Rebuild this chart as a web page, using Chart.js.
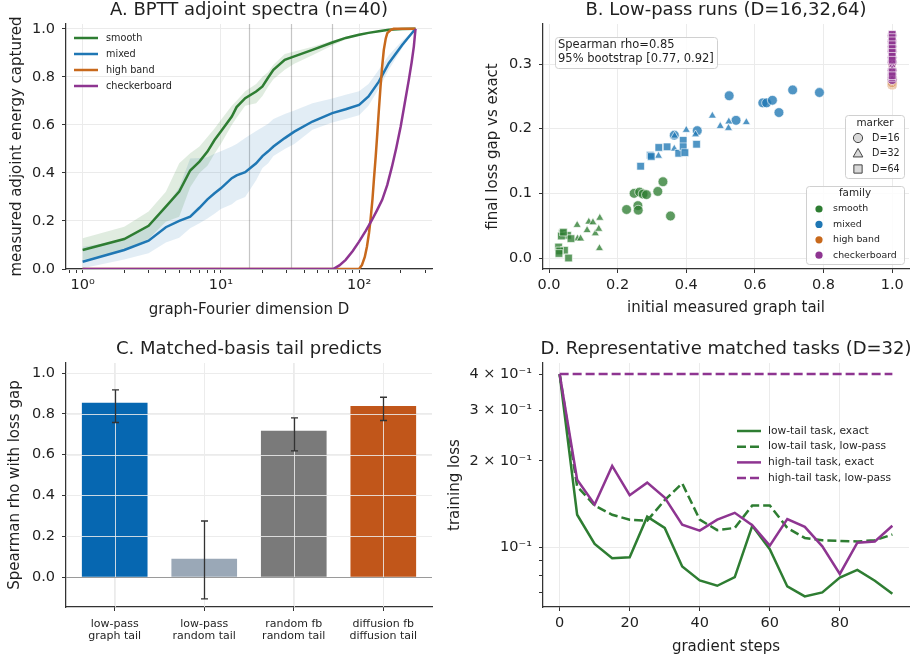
<!DOCTYPE html>
<html>
<head>
<meta charset="utf-8">
<title>adjoint tail panels</title>
<script src="https://cdn.jsdelivr.net/npm/chart.js@4.4.1/dist/chart.umd.min.js"></script>
<style>
  html, body { margin: 0; padding: 0; background: #fff; }
  #wrap { position: relative; width: 919px; height: 659px; overflow: hidden; }
  canvas { position: absolute; }
</style>
</head>
<body>
<div id="wrap">
  <canvas id="panelA" width="450" height="320" style="left:0px;top:0px"></canvas>
  <canvas id="panelB" width="469" height="320" style="left:450px;top:0px"></canvas>
  <canvas id="panelC" width="440" height="339" style="left:0px;top:320px"></canvas>
  <canvas id="panelD" width="479" height="339" style="left:440px;top:320px"></canvas>
</div>
<script>
// ---- A. fraction of adjoint energy captured by the first D graph-Fourier modes
const specD      = [1, 2, 3, 4, 5, 6, 7, 8, 9, 10, 12, 13, 15, 18, 20, 22, 24, 29, 34, 46, 64, 80, 100, 117, 139, 164, 205, 256]
const smoothFrac = [0.079, 0.125, 0.18, 0.26, 0.322, 0.41, 0.447, 0.489, 0.537, 0.572, 0.635, 0.674, 0.711, 0.739, 0.76, 0.797, 0.829, 0.871, 0.885, 0.9125, 0.943, 0.962, 0.975, 0.983, 0.99, 0.996, 0.999, 1.0]
const smoothHi   = [0.128, 0.176, 0.239, 0.322, 0.44, 0.482, 0.51, 0.55, 0.585, 0.62, 0.68, 0.70, 0.74, 0.77, 0.80, 0.82, 0.85, 0.895, 0.905, 0.925, 0.95, 0.967, 0.98, 0.987, 0.993, 0.998, 1.0, 1.0]
const smoothLo   = [0.037, 0.079, 0.125, 0.197, 0.218, 0.34, 0.40, 0.43, 0.48, 0.52, 0.60, 0.63, 0.68, 0.69, 0.72, 0.76, 0.79, 0.83, 0.855, 0.89, 0.93, 0.955, 0.97, 0.979, 0.987, 0.994, 0.998, 1.0]
const mixedFrac  = [0.03, 0.079, 0.118, 0.174, 0.2, 0.218, 0.255, 0.29, 0.315, 0.336, 0.378, 0.39, 0.403, 0.44, 0.47, 0.49, 0.51, 0.545, 0.572, 0.614, 0.649, 0.665, 0.683, 0.718, 0.78, 0.857, 0.933, 1.0]
const mixedHi    = [0.093, 0.12, 0.18, 0.26, 0.34, 0.46, 0.462, 0.465, 0.48, 0.49, 0.51, 0.52, 0.545, 0.575, 0.59, 0.605, 0.625, 0.645, 0.66, 0.69, 0.71, 0.725, 0.74, 0.77, 0.83, 0.89, 0.95, 1.0]
const mixedLo    = [0.003, 0.04, 0.066, 0.11, 0.13, 0.17, 0.19, 0.21, 0.23, 0.25, 0.27, 0.285, 0.30, 0.37, 0.42, 0.44, 0.47, 0.50, 0.52, 0.58, 0.61, 0.625, 0.64, 0.68, 0.75, 0.83, 0.92, 1.0]
const highD      = [1, 100, 105, 110, 114, 118, 121, 125, 128, 132, 135, 139, 143, 147, 151, 156, 160, 170, 178, 256]
const highFrac   = [0, 0, 0.017, 0.05, 0.093, 0.15, 0.204, 0.29, 0.371, 0.47, 0.551, 0.66, 0.76, 0.845, 0.9125, 0.96, 0.982, 0.996, 1.0, 1.0]
const checkD     = [1, 65, 72, 80, 90, 100, 112, 124, 135, 147, 160, 173, 186, 200, 214, 229, 240, 249, 256]
const checkFrac  = [0, 0, 0.015, 0.038, 0.075, 0.114, 0.16, 0.204, 0.245, 0.288, 0.35, 0.426, 0.505, 0.593, 0.69, 0.7875, 0.86, 0.926, 1.0]
const guideD     = [16, 32, 64]

// ---- B. low-pass runs: initial tail vs final loss gap (dims 16/32/64)
const smoothTail = [0.226, 0.248, 0.264, 0.274, 0.284, 0.259, 0.260, 0.317, 0.332, 0.354,
                    0.082, 0.116, 0.128, 0.148, 0.111, 0.135, 0.145, 0.083, 0.092, 0.147,
                    0.039, 0.054, 0.064, 0.028, 0.045, 0.031, 0.057, 0.036, 0.029, 0.042]
const smoothGap  = [0.075, 0.100, 0.102, 0.099, 0.098, 0.081, 0.074, 0.103, 0.118, 0.065,
                    0.051, 0.056, 0.055, 0.062, 0.043, 0.038, 0.045, 0.030, 0.030, 0.015,
                    0.038, 0.035, 0.030, 0.017, 0.012, 0.011, 0.000, 0.034, 0.007, 0.040]
const mixedTail  = [0.525, 0.623, 0.634, 0.651, 0.670, 0.710, 0.788, 0.545, 0.365, 0.432,
                    0.476, 0.499, 0.524, 0.523, 0.575, 0.400, 0.366, 0.427, 0.365, 0.319,
                    0.267, 0.295, 0.320, 0.344, 0.378, 0.391, 0.391, 0.396, 0.430, 0.298]
const mixedGap   = [0.251, 0.240, 0.240, 0.244, 0.225, 0.260, 0.256, 0.213, 0.190, 0.197,
                    0.220, 0.204, 0.211, 0.201, 0.210, 0.198, 0.189, 0.191, 0.169, 0.158,
                    0.142, 0.159, 0.171, 0.172, 0.162, 0.182, 0.172, 0.163, 0.176, 0.157]
const highTail   = [1, 1, 1, 1, 1, 1, 1, 1, 1, 1, 1, 1, 1, 1, 1, 1, 1, 1, 1, 1, 1, 1, 1, 1, 1, 1, 1, 1, 1, 1]
const highGap    = [0.268, 0.268, 0.269, 0.270, 0.271, 0.272, 0.274, 0.276, 0.278, 0.280,
                    0.290, 0.292, 0.293, 0.294, 0.295, 0.296, 0.297, 0.298, 0.299, 0.300,
                    0.295, 0.296, 0.297, 0.298, 0.298, 0.299, 0.299, 0.300, 0.300, 0.301]
const checkTail  = [1, 1, 1, 1, 1, 1, 1, 1, 1, 1, 1, 1, 1, 1, 1, 1, 1, 1, 1, 1, 1, 1, 1, 1, 1, 1, 1, 1, 1, 1]
const checkGap   = [0.344, 0.335, 0.327, 0.320, 0.310, 0.303, 0.290, 0.283, 0.279, 0.276,
                    0.345, 0.338, 0.328, 0.315, 0.305, 0.298, 0.292, 0.285, 0.280, 0.277,
                    0.346, 0.341, 0.336, 0.330, 0.324, 0.318, 0.312, 0.306, 0.288, 0.282]
const runDim     = [16, 16, 16, 16, 16, 16, 16, 16, 16, 16,
                    32, 32, 32, 32, 32, 32, 32, 32, 32, 32,
                    64, 64, 64, 64, 64, 64, 64, 64, 64, 64]
const rhoText    = ['Spearman rho=0.85', '95% bootstrap [0.77, 0.92]']

// ---- C. Spearman rho of tail measure vs loss gap, with 95% intervals
const basisLabels = [['low-pass', 'graph tail'], ['low-pass', 'random tail'], ['random fb', 'random tail'], ['diffusion fb', 'diffusion tail']]
const basisRho    = [0.853, 0.088, 0.716, 0.838]
const basisLo     = [0.758, -0.107, 0.619, 0.768]
const basisHi     = [0.918, 0.275, 0.781, 0.882]

// ---- D. training loss of two tasks (D=32)
const steps     = [0, 5, 10, 15, 20, 25, 30, 35, 40, 45, 50, 55, 60, 65, 70, 75, 80, 85, 90, 95]
const lowExact  = [0.4, 0.130, 0.103, 0.0918, 0.0926, 0.128, 0.117, 0.086, 0.0769, 0.0737, 0.079, 0.119, 0.0987, 0.0733, 0.0677, 0.0699, 0.0787, 0.0837, 0.0767, 0.0691]
const lowPass   = [0.4, 0.163, 0.140, 0.130, 0.125, 0.124, 0.146, 0.167, 0.125, 0.115, 0.117, 0.140, 0.140, 0.117, 0.108, 0.106, 0.1055, 0.105, 0.106, 0.111]
const highExact = [0.4, 0.172, 0.141, 0.192, 0.152, 0.168, 0.149, 0.120, 0.1145, 0.125, 0.132, 0.1195, 0.1016, 0.1256, 0.118, 0.101, 0.081, 0.104, 0.105, 0.119]
const highPass  = [0.4, 0.4, 0.4, 0.4, 0.4, 0.4, 0.4, 0.4, 0.4, 0.4, 0.4, 0.4, 0.4, 0.4, 0.4, 0.4, 0.4, 0.4, 0.4, 0.4]

const FONT = '"DejaVu Sans", sans-serif'
const INK = '#1f1f1f'
const SPINE = '#333333'
const GRID = '#ebebeb'
const C_SMOOTH = '#2e7d32'
const C_MIXED = '#1f77b4'
const C_HIGH = '#c8691c'
const C_CHECK = '#8e3591'

Chart.defaults.font.family = FONT
Chart.defaults.color = INK
Chart.defaults.animation = false
Chart.defaults.plugins.legend.display = false
Chart.defaults.plugins.tooltip.enabled = false

function pts(xs, ys) { return xs.map((x, i) => ({x: x, y: ys[i]})) }
function isDecade(v) { let l = Math.log10(v); return Math.abs(l - Math.round(l)) < 1e-9 }

function text(ctx, s, x, y, size, align, base, color) {
    ctx.save()
    ctx.font = size + 'px ' + FONT
    ctx.fillStyle = color || INK
    ctx.textAlign = align || 'left'
    ctx.textBaseline = base || 'middle'
    ctx.fillText(s, x, y)
    ctx.restore()
}

function roundBox(ctx, x, y, w, h, r) {
    ctx.beginPath()
    ctx.moveTo(x + r, y)
    ctx.arcTo(x + w, y, x + w, y + h, r)
    ctx.arcTo(x + w, y + h, x, y + h, r)
    ctx.arcTo(x, y + h, x, y, r)
    ctx.arcTo(x, y, x + w, y, r)
    ctx.closePath()
}

function frame(ctx, x, y, w, h) {
    ctx.save()
    roundBox(ctx, x, y, w, h, 3)
    ctx.fillStyle = 'rgba(255,255,255,0.85)'
    ctx.fill()
    ctx.strokeStyle = '#d0d0d0'
    ctx.lineWidth = 1
    ctx.stroke()
    ctx.restore()
}

function sampleLine(ctx, x0, x1, y, color, dash) {
    ctx.save()
    ctx.strokeStyle = color
    ctx.lineWidth = 2.5
    ctx.setLineDash(dash || [])
    ctx.beginPath(); ctx.moveTo(x0, y); ctx.lineTo(x1, y); ctx.stroke()
    ctx.restore()
}

function marker(ctx, style, x, y, r, fill, edge) {
    ctx.save()
    ctx.fillStyle = fill
    ctx.strokeStyle = edge
    ctx.lineWidth = 1
    ctx.beginPath()
    if (style === 'circle') ctx.arc(x, y, r, 0, Math.PI * 2)
    else if (style === 'triangle') {
        ctx.moveTo(x, y - r * 1.1)
        ctx.lineTo(x + r * 1.05, y + r * 0.75)
        ctx.lineTo(x - r * 1.05, y + r * 0.75)
        ctx.closePath()
    } else ctx.rect(x - r * 0.9, y - r * 0.9, r * 1.8, r * 1.8)
    ctx.fill()
    if (edge) ctx.stroke()
    ctx.restore()
}

// one axis, with fixed ticks and a fixed thickness so every panel lines up
function axis(o) {
    return {
        type: o.type || 'linear',
        position: o.pos,
        min: o.min,
        max: o.max,
        offset: false,
        afterBuildTicks: s => { s.ticks = o.ticks.map(v => ({value: v})) },
        afterFit: s => { if (o.pos === 'left') s.width = o.size; else s.height = o.size },
        grid: {
            color: o.gridColor || GRID, lineWidth: 1, offset: false,
            drawTicks: true, tickLength: 4, tickColor: SPINE, tickWidth: 1
        },
        border: { color: SPINE, width: 1.25 },
        ticks: {
            autoSkip: false, maxRotation: 0, minRotation: 0,
            padding: o.pad, color: INK,
            font: { size: o.fs || 14.5, lineHeight: o.lh || 1.2 },
            callback: o.fmt
        },
        title: {
            display: !!o.title, text: o.title, color: INK,
            font: { size: 15, lineHeight: 1.2 }, padding: o.tpad || 0
        }
    }
}

function panelTitle(s, baseY) {
    return {
        id: 'panelTitle',
        afterDraw(c) {
            let a = c.chartArea
            text(c.ctx, s, (a.left + a.right) / 2, baseY, 18, 'center', 'alphabetic')
        }
    }
}

// ---------------- panel A
function specLine(xs, ys, color) {
    return { data: pts(xs, ys), showLine: true, borderColor: color, borderWidth: 2.5, pointRadius: 0, tension: 0, fill: false }
}
function specBand(xs, ys, color, fill) {
    return { data: pts(xs, ys), showLine: true, borderWidth: 0, borderColor: 'rgba(0,0,0,0)', backgroundColor: color, pointRadius: 0, tension: 0, fill: fill }
}

new Chart(document.getElementById('panelA'), {
    type: 'scatter',
    data: {
        datasets: [
            specLine(checkD, checkFrac, C_CHECK),
            specLine(highD, highFrac, C_HIGH),
            specLine(specD, mixedFrac, C_MIXED),
            specLine(specD, smoothFrac, C_SMOOTH),
            specBand(specD, smoothHi, 'rgba(46,125,50,0.15)', '+1'),
            specBand(specD, smoothLo, 'rgba(0,0,0,0)', false),
            specBand(specD, mixedHi, 'rgba(31,119,180,0.13)', '+1'),
            specBand(specD, mixedLo, 'rgba(0,0,0,0)', false)
        ]
    },
    options: {
        responsive: false,
        devicePixelRatio: 1,
        layout: { padding: { left: 0, top: 24, right: 18, bottom: 0 } },
        scales: {
            x: axis({
                type: 'logarithmic', pos: 'bottom', size: 51, min: 0.758, max: 337,
                ticks: [0.8, 0.9, 1, 2, 3, 4, 5, 6, 7, 8, 9, 10, 20, 30, 40, 50, 60, 70, 80, 90, 100, 200, 300],
                fmt: v => v === 1 ? '10⁰' : v === 10 ? '10¹' : v === 100 ? '10²' : '',
                pad: 4, title: 'graph-Fourier dimension D', tpad: { bottom: 1 },
                gridColor: ctx => (ctx.tick && isDecade(ctx.tick.value)) ? GRID : 'rgba(0,0,0,0)'
            }),
            y: axis({
                pos: 'left', size: 66, min: 0, max: 1.02,
                ticks: [0, 0.2, 0.4, 0.6, 0.8, 1.0],
                fmt: v => v.toFixed(1), pad: 7,
                title: 'measured adjoint energy captured', tpad: { top: 8 }
            })
        }
    },
    plugins: [
        panelTitle('A. BPTT adjoint spectra (n=40)', 15),
        {
            id: 'guides',
            beforeDatasetsDraw(c) {
                let ctx = c.ctx, a = c.chartArea, xs = c.scales.x
                ctx.save()
                ctx.strokeStyle = 'rgba(110,110,110,0.4)'
                ctx.lineWidth = 1.2
                guideD.forEach(d => {
                    let px = Math.round(xs.getPixelForValue(d)) + 0.5
                    ctx.beginPath(); ctx.moveTo(px, a.top); ctx.lineTo(px, a.bottom); ctx.stroke()
                })
                ctx.restore()
            },
            afterDraw(c) {
                let ctx = c.ctx
                let rows = [['smooth', C_SMOOTH], ['mixed', C_MIXED], ['high band', C_HIGH], ['checkerboard', C_CHECK]]
                rows.forEach((r, i) => {
                    let y = 38 + i * 16
                    sampleLine(ctx, 74, 98, y, r[1])
                    text(ctx, r[0], 106, y, 9.7)
                })
            }
        }
    ]
})

// ---------------- panel B
const dimStyle = { 16: ['circle', 4.9], 32: ['triangle', 4.6], 64: ['rect', 5.4] }
const familyRuns = [
    ['smooth', smoothTail, smoothGap, 'rgba(46,125,50,0.78)', C_SMOOTH],
    ['mixed', mixedTail, mixedGap, 'rgba(31,119,180,0.78)', C_MIXED],
    ['high band', highTail, highGap, 'rgba(200,105,28,0.8)', C_HIGH],
    ['checkerboard', checkTail, checkGap, 'rgba(142,53,145,0.85)', C_CHECK]
]
let runSets = []
familyRuns.forEach(f => {
    [16, 32, 64].forEach(d => {
        let data = []
        runDim.forEach((dd, i) => { if (dd === d) data.push({x: f[1][i], y: f[2][i]}) })
        runSets.push({
            data: data,
            pointStyle: dimStyle[d][0],
            pointRadius: dimStyle[d][1],
            backgroundColor: f[3],
            borderColor: 'rgba(255,255,255,0.9)',
            borderWidth: 0.7
        })
    })
})
runSets.reverse()

new Chart(document.getElementById('panelB'), {
    type: 'scatter',
    data: { datasets: runSets },
    options: {
        responsive: false,
        devicePixelRatio: 1,
        layout: { padding: { left: 0, top: 24, right: 10, bottom: 0 } },
        scales: {
            x: axis({
                pos: 'bottom', size: 51, min: -0.0175, max: 1.049,
                ticks: [0, 0.2, 0.4, 0.6, 0.8, 1.0], fmt: v => v.toFixed(1), pad: 4,
                title: 'initial measured graph tail', tpad: { bottom: 3 }
            }),
            y: axis({
                pos: 'left', size: 93, min: -0.017, max: 0.362,
                ticks: [0, 0.1, 0.2, 0.3], fmt: v => v.toFixed(1), pad: 7,
                title: 'final loss gap vs exact', tpad: { top: 34 }
            })
        }
    },
    plugins: [
        panelTitle('B. Low-pass runs (D=16,32,64)', 15),
        {
            id: 'notes',
            afterDraw(c) {
                let ctx = c.ctx
                frame(ctx, 105.5, 37.5, 162, 31)
                text(ctx, rhoText[0], 108, 45, 11.5)
                text(ctx, rhoText[1], 108, 59, 11.5)

                frame(ctx, 395.5, 115.5, 59, 63)
                text(ctx, 'marker', 425, 123, 10.4, 'center')
                ;[['circle', 'D=16'], ['triangle', 'D=32'], ['rect', 'D=64']].forEach((m, i) => {
                    let y = 138 + i * 15.5
                    marker(ctx, m[0], 408, y, 4.6, '#d9d9d9', '#444')
                    text(ctx, m[1], 422, y, 9.6)
                })

                frame(ctx, 356.5, 186.5, 98, 78)
                text(ctx, 'family', 405, 193, 10.4, 'center')
                familyRuns.forEach((f, i) => {
                    let y = 209 + i * 15.4
                    marker(ctx, 'circle', 369, y, 3.6, f[4], null)
                    text(ctx, f[0], 383, y, 9.4)
                })
            }
        }
    ]
})

// ---------------- panel C
new Chart(document.getElementById('panelC'), {
    type: 'bar',
    data: {
        datasets: [{
            data: pts([0, 1, 2, 3], basisRho),
            backgroundColor: ['#0667b1', '#9aa8b7', '#7a7a7a', '#c1561a'],
            borderWidth: 0,
            barThickness: 65
        }]
    },
    options: {
        responsive: false,
        devicePixelRatio: 1,
        layout: { padding: { left: 0, top: 43, right: 8, bottom: 0 } },
        scales: {
            x: axis({
                pos: 'bottom', size: 52, min: -0.544, max: 3.544,
                ticks: [0, 1, 2, 3], fmt: v => basisLabels[v], pad: 7, fs: 11, lh: 1.1
            }),
            y: axis({
                pos: 'left', size: 66, min: -0.147, max: 1.05,
                ticks: [0, 0.2, 0.4, 0.6, 0.8, 1.0], fmt: v => v.toFixed(1), pad: 7,
                title: 'Spearman rho with loss gap', tpad: { top: 6 }
            })
        }
    },
    plugins: [
        panelTitle('C. Matched-basis tail predicts', 34),
        {
            id: 'errorBars',
            afterDatasetsDraw(c) {
                let ctx = c.ctx, a = c.chartArea, xs = c.scales.x, ys = c.scales.y
                ctx.save()
                // grid shows through the bars
                ctx.strokeStyle = 'rgba(236,236,236,0.85)'
                ctx.lineWidth = 1
                ;[0.2, 0.4, 0.6, 0.8, 1.0].forEach(v => {
                    let py = Math.round(ys.getPixelForValue(v)) + 0.5
                    ctx.beginPath(); ctx.moveTo(a.left, py); ctx.lineTo(a.right, py); ctx.stroke()
                })
                ;[0, 1, 2, 3].forEach(v => {
                    let px = Math.round(xs.getPixelForValue(v)) + 0.5
                    ctx.beginPath(); ctx.moveTo(px, a.top); ctx.lineTo(px, a.bottom); ctx.stroke()
                })
                // zero line
                let z = Math.round(ys.getPixelForValue(0)) + 0.5
                ctx.strokeStyle = '#9a9a9a'
                ctx.beginPath(); ctx.moveTo(a.left, z); ctx.lineTo(a.right, z); ctx.stroke()
                // intervals
                ctx.strokeStyle = '#333'
                ctx.lineWidth = 1.3
                basisRho.forEach((r, i) => {
                    let px = Math.round(xs.getPixelForValue(i)) + 0.5
                    let lo = ys.getPixelForValue(basisLo[i]), hi = ys.getPixelForValue(basisHi[i])
                    ctx.beginPath()
                    ctx.moveTo(px, lo); ctx.lineTo(px, hi)
                    ctx.moveTo(px - 3.5, lo); ctx.lineTo(px + 3.5, lo)
                    ctx.moveTo(px - 3.5, hi); ctx.lineTo(px + 3.5, hi)
                    ctx.stroke()
                })
                ctx.restore()
            }
        }
    ]
})

// ---------------- panel D
function lossLine(ys, color, dash) {
    return { data: pts(steps, ys), showLine: true, borderColor: color, borderWidth: 2.5, borderDash: dash || [], pointRadius: 0, tension: 0 }
}
const lossTicks = { 0.1: '10⁻¹', 0.2: '2 × 10⁻¹', 0.3: '3 × 10⁻¹', 0.4: '4 × 10⁻¹' }

new Chart(document.getElementById('panelD'), {
    type: 'scatter',
    data: {
        datasets: [
            lossLine(highPass, C_CHECK, [9, 4]),
            lossLine(highExact, C_CHECK),
            lossLine(lowPass, C_SMOOTH, [9, 4]),
            lossLine(lowExact, C_SMOOTH)
        ]
    },
    options: {
        responsive: false,
        devicePixelRatio: 1,
        layout: { padding: { left: 0, top: 43, right: 10, bottom: 0 } },
        scales: {
            x: axis({
                pos: 'bottom', size: 52, min: -4.75, max: 99.75,
                ticks: [0, 20, 40, 60, 80], fmt: v => String(v), pad: 4,
                title: 'gradient steps', tpad: { bottom: 3 }
            }),
            y: axis({
                type: 'logarithmic', pos: 'left', size: 103, min: 0.0622, max: 0.437,
                ticks: [0.07, 0.08, 0.09, 0.1, 0.2, 0.3, 0.4],
                fmt: v => lossTicks[v] || '', pad: 7,
                title: 'training loss', tpad: { top: 6 },
                gridColor: ctx => (ctx.tick && Math.abs(ctx.tick.value - 0.1) < 1e-9) ? GRID : 'rgba(0,0,0,0)'
            })
        }
    },
    plugins: [
        panelTitle('D. Representative matched tasks (D=32)', 34),
        {
            id: 'lossLegend',
            afterDraw(c) {
                let ctx = c.ctx
                let rows = [
                    ['low-tail task, exact', C_SMOOTH, null],
                    ['low-tail task, low-pass', C_SMOOTH, [9, 4]],
                    ['high-tail task, exact', C_CHECK, null],
                    ['high-tail task, low-pass', C_CHECK, [9, 4]]
                ]
                rows.forEach((r, i) => {
                    let y = 111 + i * 15.7
                    sampleLine(ctx, 297, 321, y, r[1], r[2])
                    text(ctx, r[0], 328, y, 10.7)
                })
            }
        }
    ]
})
</script>
</body>
</html>
